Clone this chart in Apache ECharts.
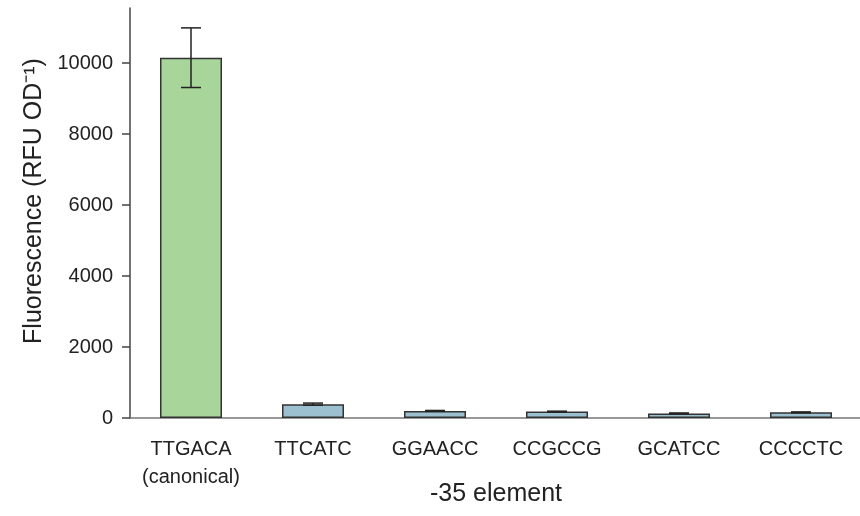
<!DOCTYPE html>
<html><head><meta charset="utf-8">
<script src="https://cdn.jsdelivr.net/npm/echarts@6/dist/echarts.min.js"></script>
<style>html,body{margin:0;padding:0;background:#fff}#c{width:860px;height:516px}</style>
</head><body><div id="c"></div>
<script>
const categories = ['TTGACA\n(canonical)', 'TTCATC', 'GGAACC', 'CCGCCG', 'GCATCC', 'CCCCTC'];
const values = [10150, 390, 200, 180, 130, 160];
const errors = [840, 30, 12, 12, 12, 12];
const yTicks = [0, 2000, 4000, 6000, 8000, 10000];
const barColors = ['#a8d59a', '#9dc0d0', '#9dc0d0', '#9dc0d0', '#9dc0d0', '#9dc0d0'];

const chart = echarts.init(document.getElementById('c'));
const font = 'Liberation Sans, Arial, sans-serif';
chart.setOption({
  animation: false,
  grid: { left: 130, right: -2, top: 8, bottom: 98, containLabel: false, outerBoundsMode: 'none' },
  xAxis: {
    type: 'category', data: categories,
    name: '-35 element', nameLocation: 'middle', nameGap: 64, nameMoveOverlap: false,
    nameTextStyle: { fontSize: 25, color: '#222', fontFamily: font },
    axisLine: { lineStyle: { color: '#777', width: 1.5 } },
    axisTick: { alignWithLabel: true, interval: 0, length: 6, lineStyle: { color: '#444', width: 1.5 } },
    axisLabel: { interval: 0, fontSize: 20, color: '#222', fontFamily: font, margin: 17, lineHeight: 28, hideOverlap: false }
  },
  yAxis: {
    type: 'value', min: 0, max: 11550,
    name: 'Fluorescence (RFU OD\u207B\u00B9)', nameLocation: 'middle', nameGap: 83, nameMoveOverlap: false,
    nameTextStyle: { fontSize: 25, color: '#222', fontFamily: font, padding: [0, 0, 0, 24] },
    axisLine: { show: true, lineStyle: { color: '#444', width: 1.5 } },
    axisTick: { show: true, length: 8, customValues: yTicks, lineStyle: { color: '#444', width: 1.5 } },
    axisLabel: { fontSize: 20, color: '#222', fontFamily: font, margin: 17, customValues: yTicks,
      formatter: v => String(v) },
    splitLine: { show: false }
  },
  series: [
    {
      type: 'bar', barWidth: 62,
      data: values.map((v, i) => ({ value: v, itemStyle: { color: barColors[i] } })),
      itemStyle: { borderColor: '#333', borderWidth: 1.5 }
    },
    {
      type: 'custom',
      data: values.map((v, i) => [i, v - errors[i], v + errors[i]]),
      renderItem: function (params, api) {
        const lo = api.coord([api.value(0), api.value(1)]);
        const hi = api.coord([api.value(0), api.value(2)]);
        const hw = 10;
        const st = { stroke: '#222', lineWidth: 1.5 };
        return { type: 'group', children: [
          { type: 'line', shape: { x1: lo[0], y1: lo[1], x2: hi[0], y2: hi[1] }, style: st },
          { type: 'line', shape: { x1: lo[0] - hw, y1: lo[1], x2: lo[0] + hw, y2: lo[1] }, style: st },
          { type: 'line', shape: { x1: hi[0] - hw, y1: hi[1], x2: hi[0] + hw, y2: hi[1] }, style: st }
        ]};
      },
      z: 5
    }
  ]
});
</script></body></html>
